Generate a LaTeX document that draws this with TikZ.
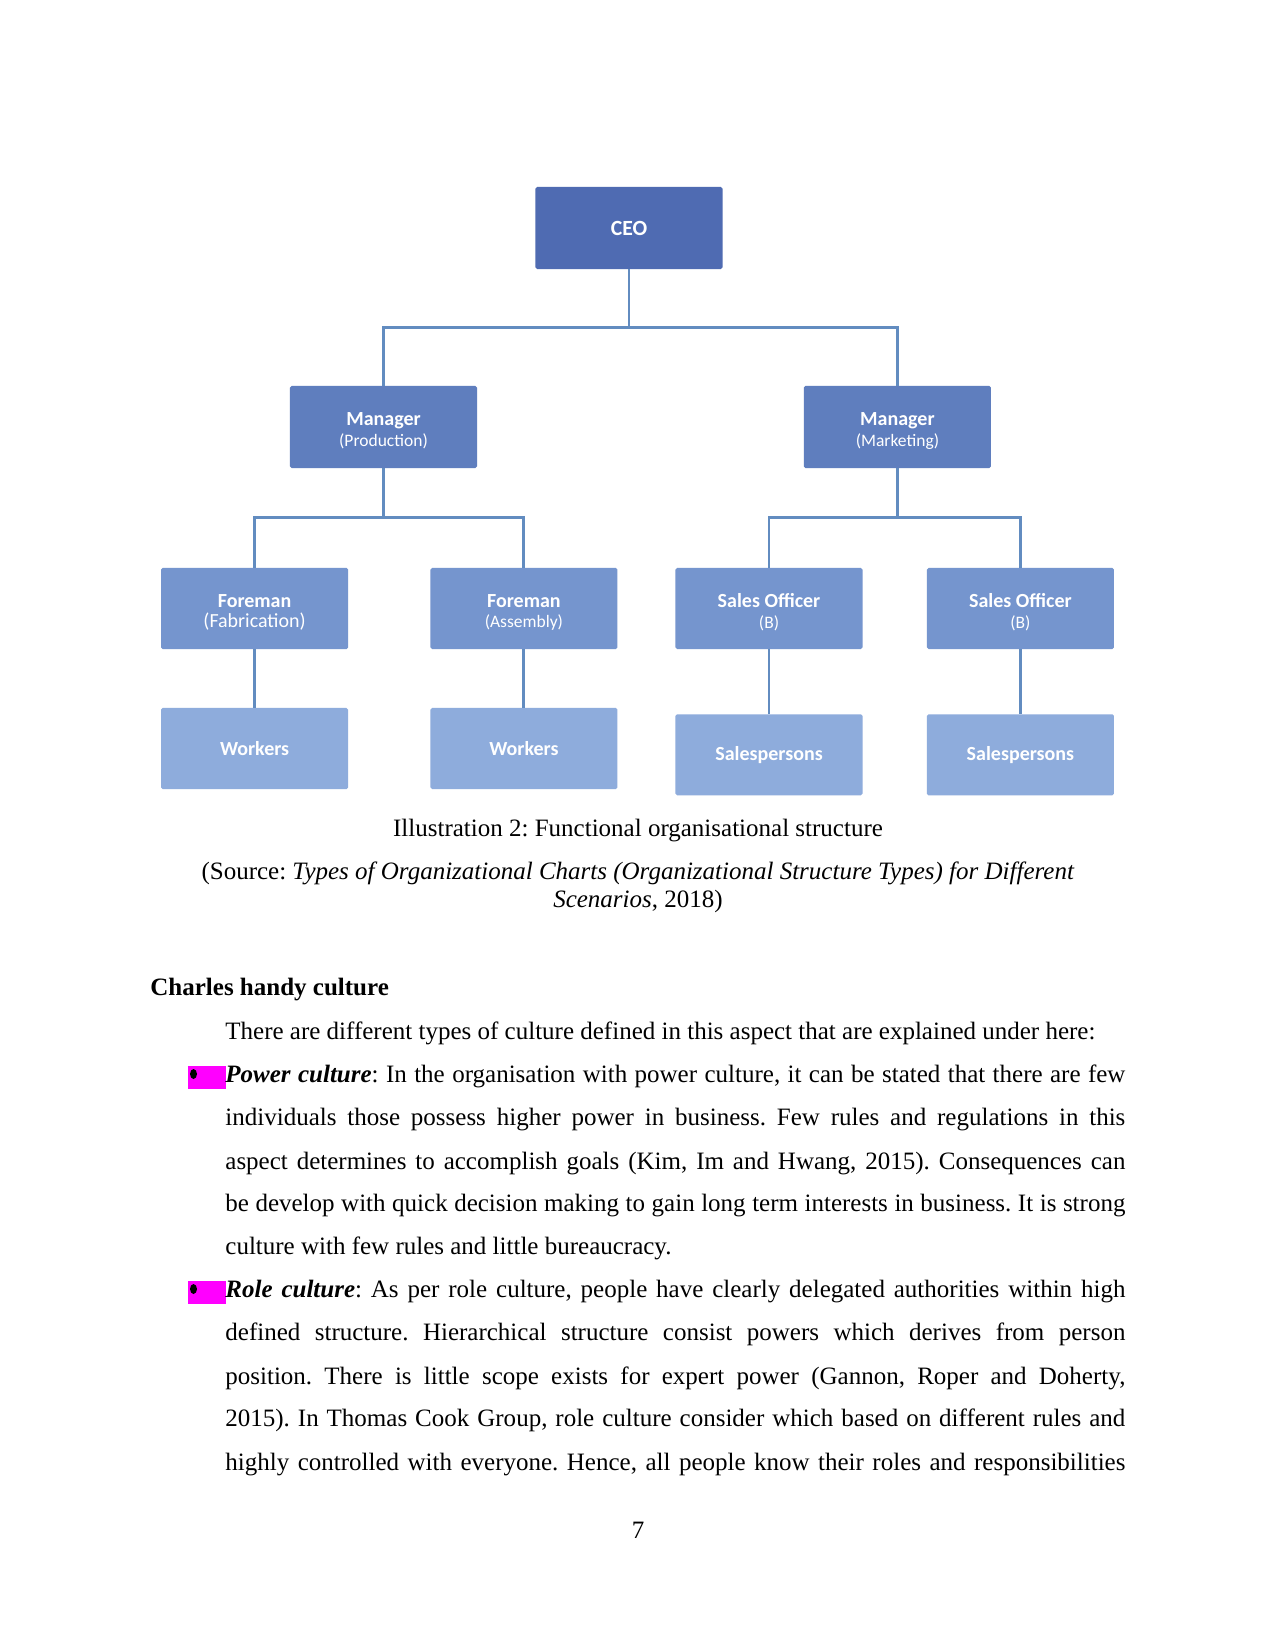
\documentclass[tikz,border=0pt]{standalone}
\usepackage{fontspec}
\setmainfont{Liberation Serif}
\newfontfamily\boxfont{Carlito}
\newcommand\boxsub{\mdseries\fontsize{8.4}{10}\selectfont}
\newcommand\boxup{\rule{0pt}{10pt}}
\definecolor{cA}{RGB}{79,107,178}
\definecolor{cB}{RGB}{95,126,190}
\definecolor{cC}{RGB}{117,149,206}
\definecolor{cD}{RGB}{142,172,220}
\definecolor{linec}{RGB}{98,140,192}
\definecolor{hlpink}{RGB}{255,0,255}
\frenchspacing
\begin{document}
\begin{tikzpicture}[x=0.48pt,y=-0.48pt,
  font=\fontsize{12}{14.4}\selectfont\frenchspacing,
  box/.style={rectangle, draw=none, rounded corners=0.8pt, minimum width=89.8pt, minimum height=38.9pt, inner sep=0pt, align=center, text=white, font=\boxfont\bfseries\fontsize{9.6}{10}\selectfont},
  conn/.style={draw=linec, line width=1.4pt},
  ln/.style={anchor=base west, inner sep=0pt},
  cl/.style={anchor=base, inner sep=0pt},
  hlmark/.style={fill=hlpink, draw=none, minimum width=17.8pt, minimum height=10.6pt, inner sep=0pt, anchor=north west}]
\fill[white] (0,0) rectangle (1275,1650);
\useasboundingbox (0,0) rectangle (1275,1650);

% chart
\node[box, fill=cA, minimum height=39.4pt, font=\boxfont\bfseries\fontsize{10.4}{11}\selectfont] (ceo) at (629,228) {CEO};
\node[box, fill=cB, minimum height=39.4pt] (mp) at (383.5,427) {\boxup Manager\\\boxsub(Production)};
\node[box, fill=cB, minimum height=39.4pt] (mm) at (897.4,427) {\boxup Manager\\\boxsub(Marketing)};
\node[box, fill=cC] (f1) at (254.6,608.5) {\boxup Foreman\\\mdseries(Fabrication)};
\node[box, fill=cC] (f2) at (523.9,608.5) {\boxup Foreman\\\boxsub(Assembly)};
\node[box, fill=cC] (s1) at (769,608.5) {\boxup Sales Officer\\\boxsub(B)};
\node[box, fill=cC] (s2) at (1020.4,608.5) {\boxup Sales Officer\\\boxsub(B)};
\node[box, fill=cD] (w1) at (254.6,748.5) {Workers};
\node[box, fill=cD] (w2) at (523.9,748.5) {Workers};
\node[box, fill=cD] (p1) at (769,754.8) {Salespersons};
\node[box, fill=cD] (p2) at (1020.4,754.8) {Salespersons};

\coordinate (busA) at (629,327.2);
\coordinate (busB) at (0,517.6);
\draw[conn] (ceo.south) -- (busA);
\draw[conn] (mp.north) -- (mp.north |- busA) -- (mm.north |- busA) -- (mm.north);
\draw[conn] (mp.south) -- (mp.south |- busB);
\draw[conn] (mm.south) -- (mm.south |- busB);
\draw[conn] (f1.north) -- (f1.north |- busB) -- (f2.north |- busB) -- (f2.north);
\draw[conn] (s1.north) -- (s1.north |- busB) -- (s2.north |- busB) -- (s2.north);
\draw[conn] (f1.south) -- (w1.north);
\draw[conn] (f2.south) -- (w2.north);
\draw[conn] (s1.south) -- (p1.north);
\draw[conn] (s2.south) -- (p2.north);

% caption
\node[cl] (cap) at (638,836.7) {Illustration 2: Functional organisational structure};
\node[cl] (src1) at (638,879) {(Source: \textit{Types of Organizational Charts (Organizational Structure Types) for Different}};
\node[cl] (src2) at (638,907.3) {\textit{Scenarios}, 2018)};

% body
\node[ln] (head) at (150,995) {\textbf{Charles handy culture}};
\node[ln] (intro) at (225,1039) {There are different types of culture defined in this aspect that are explained under here:};

\node[hlmark] (m1) at (188,1066) {};
\fill (193.5,1074) ellipse [x radius=3.5, y radius=5];
\node[ln] (a1) at (225,1082.7) {\hbox to 432pt{\textbf{\textit{Power culture}}: In the organisation with power culture, it can be stated that there are few}};
\node[ln] (a2) at (225,1125.7) {\hbox to 432pt{individuals those possess higher power in business. Few rules and regulations in this}};
\node[ln] (a3) at (225,1169) {\hbox to 432pt{aspect determines to accomplish goals (Kim, Im and Hwang, 2015). Consequences can}};
\node[ln] (a4) at (225,1211.7) {\hbox to 432pt{be develop with quick decision making to gain long term interests in business. It is strong}};
\node[ln] (a5) at (225,1254.3) {culture with few rules and little bureaucracy.};

\node[hlmark] (m2) at (188,1281) {};
\fill (193.5,1289) ellipse [x radius=3.5, y radius=5];
\node[ln] (b1) at (225,1297.3) {\hbox to 432pt{\textbf{\textit{Role culture}}: As per role culture, people have clearly delegated authorities within high}};
\node[ln] (b2) at (225,1340.7) {\hbox to 432pt{defined structure. Hierarchical structure consist powers which derives from person}};
\node[ln] (b3) at (225,1384) {\hbox to 432pt{position. There is little scope exists for expert power (Gannon, Roper and Doherty,}};
\node[ln] (b4) at (225,1426.7) {\hbox to 432pt{2015). In Thomas Cook Group, role culture consider which based on different rules and}};
\node[ln] (b5) at (225,1470) {\hbox to 432pt{highly controlled with everyone. Hence, all people know their roles and responsibilities}};

\node[cl] (pg) at (638,1538.3) {7};
\end{tikzpicture}
\end{document}
